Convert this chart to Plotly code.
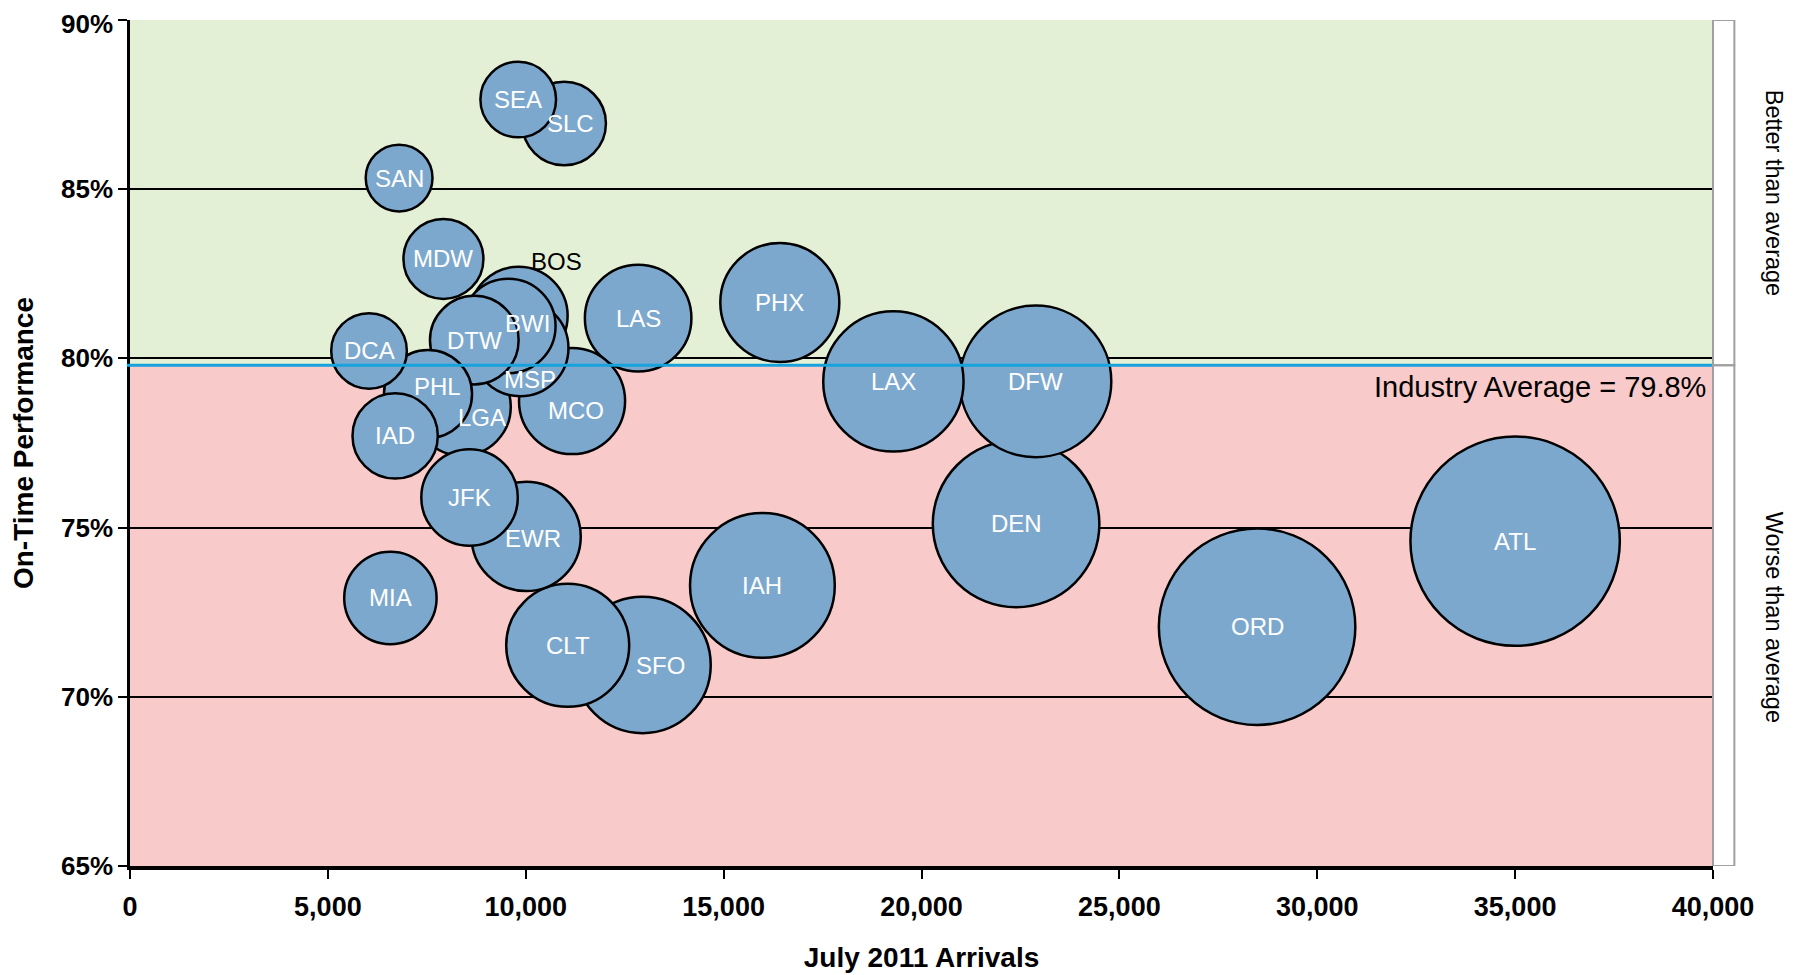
import plotly.graph_objects as go

# ---------------- data ----------------
airports = ["ATL", "ORD", "DEN", "DFW", "IAH", "LAX", "SFO", "CLT", "PHX", "EWR",
            "LAS", "MCO", "BOS", "LGA", "MSP", "JFK", "BWI", "MIA", "DTW", "PHL",
            "IAD", "SLC", "MDW", "SEA", "DCA", "SAN"]
arrivals = [35000, 28480, 22390, 22880, 15980, 19290, 12950, 11060, 16420, 10010,
            12840, 11170, 9820, 8390, 9860, 8580, 9560, 6580, 8700, 7530,
            6700, 10970, 7920, 9810, 6040, 6800]
on_time = [74.60, 72.07, 75.11, 79.32, 73.29, 79.32, 70.94, 71.52, 81.65, 74.74,
           81.19, 78.74, 81.26, 78.57, 80.31, 75.89, 80.96, 72.92, 80.54, 78.95,
           77.71, 86.94, 82.94, 87.65, 80.22, 85.33]
bubble_size = [45.2, 39.8, 28.6, 23.7, 21.6, 20.3, 19.2, 15.6, 14.6, 12.3,
               11.7, 11.6, 9.9, 9.8, 9.6, 9.6, 9.2, 8.8, 8.1, 8.0,
               7.5, 7.2, 6.6, 5.9, 5.9, 4.6]
industry_avg = 79.8
x_ticks = [0, 5000, 10000, 15000, 20000, 25000, 30000, 35000, 40000]
y_ticks = [65, 70, 75, 80, 85, 90]
y_tick_labels = ["65%", "70%", "75%", "80%", "85%", "90%"]

# label nudges (pixels) for labels moved off-centre in the original
label_shift = {"BOS": (38, 54), "BWI": (19, 2), "MSP": (10, -32), "LGA": (20, -11),
               "SFO": (18, -1), "SLC": (6, 0), "EWR": (7, -2), "MCO": (4, -9),
               "PHL": (9, 7)}
label_dark = {"BOS"}

FONT = "Liberation Sans, Arial, sans-serif"
GREEN = "#e4f0d5"
PINK = "#f8caca"
BUBBLE = "#7da8ce"
AVG = "#17a2dc"

fig = go.Figure()
fig.add_trace(go.Scatter(
    x=arrivals, y=on_time, mode="markers",
    marker=dict(size=bubble_size, sizemode="area", sizeref=0.002062,
                color=BUBBLE, opacity=1, line=dict(color="black", width=2.5)),
    hoverinfo="text", text=airports, showlegend=False, cliponaxis=False))

annotations = []
for name, xv, yv in zip(airports, arrivals, on_time):
    dx, dy = label_shift.get(name, (0, 0))
    annotations.append(dict(
        x=xv, y=yv, xref="x", yref="y", text=name, showarrow=False,
        xshift=dx, yshift=dy,
        font=dict(family=FONT, size=24,
                  color="black" if name in label_dark else "white")))

# y tick labels (the top one nudged slightly so it stays inside the page)
for tv, tl in zip(y_ticks, y_tick_labels):
    annotations.append(dict(
        x=0, y=tv, xref="paper", yref="y", xanchor="right", yanchor="middle",
        xshift=-15, yshift=(-4 if tv == y_ticks[-1] else 0), text=tl, showarrow=False,
        font=dict(family=FONT, size=26, weight="bold", color="black")))

annotations += [
    dict(x=1, y=industry_avg, xref="paper", yref="y", xanchor="right", yanchor="top",
         xshift=-5, yshift=-4, text=f"Industry Average = {industry_avg}%", showarrow=False,
         font=dict(family=FONT, size=29, color="black")),
    dict(x=1.0387, y=0.7955, xref="paper", yref="paper", xanchor="center", yanchor="middle",
         text="Better than average", textangle=90, showarrow=False,
         font=dict(family=FONT, size=23.5, color="black")),
    dict(x=1.0387, y=0.2943, xref="paper", yref="paper", xanchor="center", yanchor="middle",
         text="Worse than average", textangle=90, showarrow=False,
         font=dict(family=FONT, size=23.5, color="black")),
]

shapes = [
    dict(type="rect", xref="x", yref="y", x0=x_ticks[0], x1=x_ticks[-1],
         y0=industry_avg, y1=y_ticks[-1], fillcolor=GREEN, line=dict(width=0), layer="below"),
    dict(type="rect", xref="x", yref="y", x0=x_ticks[0], x1=x_ticks[-1],
         y0=y_ticks[0], y1=industry_avg, fillcolor=PINK, line=dict(width=0), layer="below"),
    dict(type="line", xref="paper", yref="paper", x0=1, x1=1, y0=0, y1=1,
         line=dict(color="black", width=2), layer="above"),
    dict(type="line", xref="paper", yref="y", x0=-0.002, x1=1, y0=industry_avg, y1=industry_avg,
         line=dict(color=AVG, width=3), layer="above"),
    dict(type="rect", xref="paper", yref="y", x0=1, x1=1.0135, y0=industry_avg, y1=y_ticks[-1],
         line=dict(color="#a0a0a0", width=2), fillcolor="rgba(0,0,0,0)", layer="above"),
    dict(type="rect", xref="paper", yref="y", x0=1, x1=1.0135, y0=y_ticks[0], y1=industry_avg,
         line=dict(color="#a0a0a0", width=2), fillcolor="rgba(0,0,0,0)", layer="above"),
]

fig.update_layout(
    width=1800, height=975,
    margin=dict(l=122, r=95, t=12, b=117, autoexpand=False),
    plot_bgcolor="white", paper_bgcolor="white",
    font=dict(family=FONT, color="black"),
    shapes=shapes, annotations=annotations,
    xaxis=dict(range=[x_ticks[0], x_ticks[-1]], tickmode="array", tickvals=x_ticks,
               tickformat=",d", automargin=False, ticklabeloverflow="allow",
               showline=True, linecolor="black", linewidth=4,
               ticks="outside", ticklen=9, tickwidth=2, tickcolor="black",
               showgrid=False, zeroline=False, ticklabelstandoff=5,
               tickfont=dict(family=FONT, size=27, weight="bold", color="black"),
               title=dict(text="July 2011 Arrivals", standoff=27,
                          font=dict(family=FONT, size=28, weight="bold", color="black"))),
    yaxis=dict(range=[y_ticks[0], y_ticks[-1]], tickmode="array", tickvals=y_ticks,
               showticklabels=False, automargin=False,
               showline=True, linecolor="black", linewidth=3,
               ticks="outside", ticklen=9, tickwidth=2, tickcolor="black",
               showgrid=True, gridcolor="black", gridwidth=2, zeroline=False,
               title=dict(text="On-Time Performance", standoff=84,
                          font=dict(family=FONT, size=28, weight="bold", color="black"))),
)

fig.write_html("out.html")
